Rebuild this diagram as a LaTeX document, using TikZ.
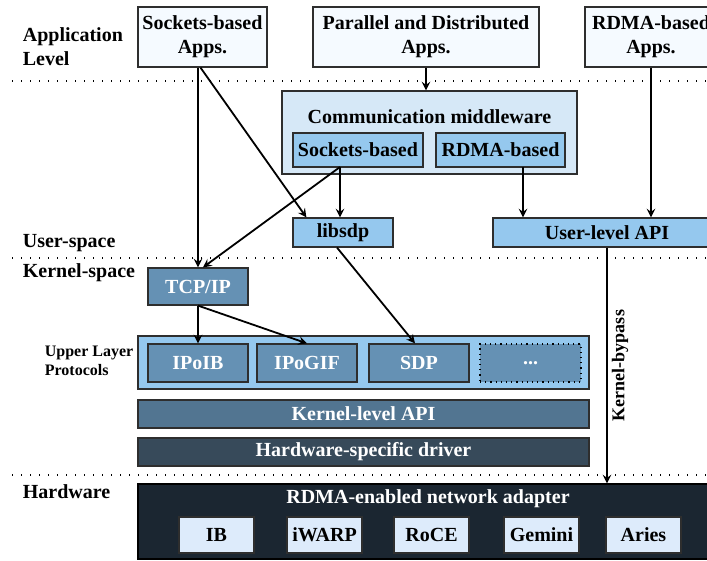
\documentclass[tikz,border=0pt]{standalone}
\usepackage{fontspec}
\setmainfont{Liberation Serif}
\usepackage{tikz}
\usetikzlibrary{arrows}
\usetikzlibrary{positioning}

\definecolor{appfill}{HTML}{F5FAFF}
\definecolor{mwfill}{HTML}{D6E8F7}
\definecolor{midfill}{HTML}{95C8EE}
\definecolor{tcpfill}{HTML}{6591B4}
\definecolor{kapifill}{HTML}{527591}
\definecolor{drvfill}{HTML}{374A5A}
\definecolor{nicfill}{HTML}{1B2631}
\definecolor{hwfill}{HTML}{DDEBFB}
\definecolor{boxline}{HTML}{2E2E2E}

\begin{document}
\begin{tikzpicture}[
            x = 0.5pt, y = -0.5pt, % one unit per pixel
            > = stealth, % arrow head style
            font = \bfseries,
            line width = 0.9pt % line style
        ]

        \tikzstyle{basebox}=[
            draw = boxline,
            line width = 0.6pt,
            inner sep = 0pt,
            align = center
        ]
        \tikzstyle{appbox}=[basebox, fill = appfill, minimum height = 30pt]
        \tikzstyle{midbox}=[basebox, fill = midfill, minimum height = 17pt]
        \tikzstyle{kbox}=[basebox, fill = tcpfill, text = white, minimum width = 50pt, minimum height = 19pt]
        \tikzstyle{layerbar}=[basebox, text = white, minimum width = 225.5pt, minimum height = 14pt]
        \tikzstyle{hwbox}=[basebox, fill = hwfill, minimum width = 37.5pt, minimum height = 18pt]
        \tikzstyle{levelline}=[line width = 0.6pt, dash pattern = on 0.6pt off 3.9pt]
        \tikzstyle{levellabel}=[anchor = west, align = left, inner sep = 0pt]

        \useasboundingbox (0,0) rectangle (707,561);
        \clip (0,0) rectangle (707,561);

	% LEVEL SEPARATORS
        \draw[levelline] (12,81) -- (707,81);
        \draw[levelline] (12,258) -- (707,258);
        \draw[levelline] (12,475) -- (707,475);

        \node[levellabel] (LApp) at (22,47) {Application\\Level};
        \node[levellabel] (LUser) at (22,243) {User-space};
        \node[levellabel] (LKer) at (22,273) {Kernel-space};
        \node[levellabel, font = \footnotesize\bfseries] (LUlp) at (44,361) {Upper Layer\\Protocols};
        \node[levellabel] (LHw) at (22,492) {Hardware};

	% APPLICATIONS
        \node[appbox, minimum width = 64.5pt] (SA) at (202.5,37) {Sockets-based\\Apps.};
        \node[appbox, minimum width = 113pt] (PA) at (426,37) {Parallel and Distributed\\Apps.};
        \node[appbox, minimum width = 66pt] (RA) at (651,37) {RDMA-based\\Apps.};

	% USER-SPACE
        \node[basebox, fill = mwfill, minimum width = 147.5pt, minimum height = 41.5pt] (MW) at (429.5,132.5) {};
        \node (MWT) at (429.5,117) {Communication middleware};
        \node[midbox, minimum width = 65pt] (MS) at (358,150) {Sockets-based};
        \node[midbox, minimum width = 64.5pt] (MR) at (500.5,150) {RDMA-based};
        \node[midbox, minimum width = 50pt, minimum height = 14.5pt] (LS) at (343,232.5) {libsdp};
        \node[midbox, minimum width = 114pt, minimum height = 14.5pt] (UA) at (607,232.5) {User-level API};

	% KERNEL-SPACE
        \node[kbox, minimum height = 18.5pt] (TCP) at (198,286.5) {TCP/IP};
        \node[basebox, fill = midfill, minimum width = 225.5pt, minimum height = 26.5pt] (ULP) at (363.5,362.5) {};
        \node[kbox] (IPB) at (198,363) {IPoIB};
        \node[kbox] (IPG) at (307,363) {IPoGIF};
        \node[kbox] (SDP) at (419,363) {SDP};
        \node[kbox, draw = black, dotted, minimum width = 50.5pt] (ETC) at (530.5,363) {...};
        \node[layerbar, fill = kapifill] (KAPI) at (363.5,414) {Kernel-level API};
        \node[layerbar, fill = drvfill] (DRV) at (363.5,452) {Hardware-specific driver};

	% HARDWARE
        \node[basebox, draw = black, fill = nicfill, minimum width = 290pt, minimum height = 37.5pt] (NIC) at (428,521.5) {};
        \node[text = white] (NICT) at (428,499) {RDMA-enabled network adapter};
        \node[hwbox] (IB) at (216.5,535) {IB};
        \node[hwbox] (IW) at (324.5,535) {iWARP};
        \node[hwbox] (RC) at (431.5,535) {RoCE};
        \node[hwbox] (GM) at (541.5,535) {Gemini};
        \node[hwbox] (AR) at (643.5,535) {Aries};

        \coordinate (MSo) at (340,167);
        \coordinate (MRo) at (523,167);

        \path[->] (SA.south -| TCP.north) edge (TCP.north);
        \path[->] ([xshift=-1pt]SA.south) edge ([xshift=7pt]LS.north west);
        \path[->] (MSo) edge (MSo |- LS.north);
        \path[->] (MSo) edge ([xshift=2.5pt]TCP.north);
        \path[->] (PA.south) edge (PA.south |- MW.north);
        \path[->] (MRo) edge (MRo |- UA.north);
        \path[->] (RA.south) edge (RA.south |- UA.north);
        \path[->] (UA.south) edge node[rotate = 90, anchor = north, inner sep = 2pt, font = \small\bfseries] {Kernel-bypass} (UA.south |- NIC.north);
        \path[->] ([xshift=-3pt]LS.south) edge ([xshift=-2pt]SDP.north);
        \path[->] (TCP.south) edge (IPB.north);
        \path[->] (TCP.south) edge (IPG.north);

  \end{tikzpicture}
\end{document}
